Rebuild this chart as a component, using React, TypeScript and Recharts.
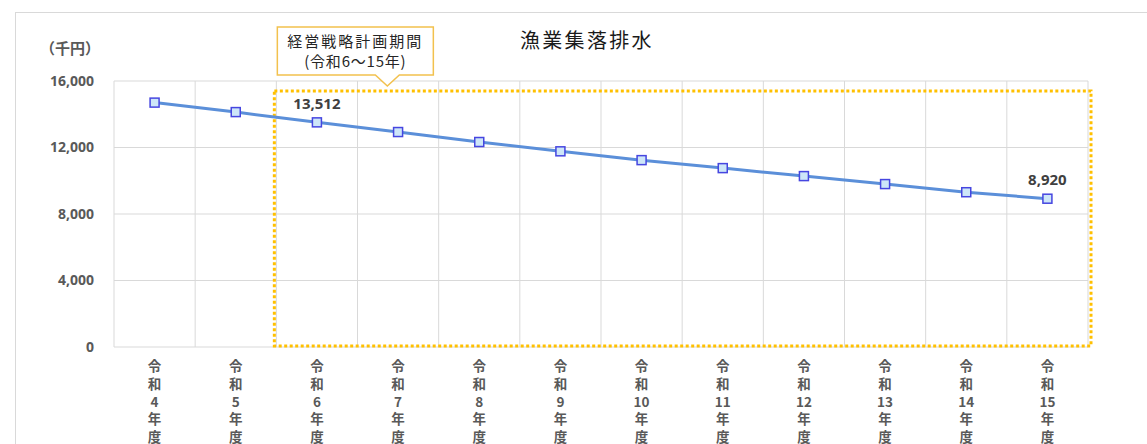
import React from "react";
import {
    LineChart,
    Line,
    XAxis,
    YAxis,
    CartesianGrid,
    ReferenceArea,
    LabelList,
} from "recharts";

const FONT = '"Noto Sans CJK JP", "Noto Sans", sans-serif';
const NUM_FONT = '"Noto Sans", "Noto Sans CJK JP", sans-serif';

const years = [
    "令和4年度",
    "令和5年度",
    "令和6年度",
    "令和7年度",
    "令和8年度",
    "令和9年度",
    "令和10年度",
    "令和11年度",
    "令和12年度",
    "令和13年度",
    "令和14年度",
    "令和15年度",
];

// 千円
const values = [
    14700, 14130, 13512, 12930, 12330, 11770, 11240, 10760, 10280, 9800, 9310,
    8920,
];

const yTicks = [0, 4000, 8000, 12000, 16000];

// only the first and last year of the plan get a value label
const labeledYears = ["令和6年度", "令和15年度"];

const planStart = "令和6年度";
const planEnd = "令和15年度";
const planTop = 15400;

const data = years.map((year, i) => ({ year, value: values[i] }));

// plot is 974px wide, split into 12 bands; points sit mid-band
const HALF_BAND = 974 / years.length / 2;

const YearTick = (props: any) => {
    const { x, y, payload } = props;
    const parts: string[] = String(payload.value).match(/\d+|./g) || [];
    return (
        <text
            x={x}
            y={y}
            textAnchor="middle"
            fill="#595959"
            fontSize={13.5}
            fontWeight="bold"
            fontFamily={FONT}
        >
            {parts.map((p, i) => (
                <tspan key={i} x={x} y={y + 24 + i * 17.8}>
                    {p}
                </tspan>
            ))}
        </text>
    );
};

const SquareDot = (props: any) => {
    const { cx, cy, index } = props;
    if (cx == null || cy == null) return null;
    return (
        <rect
            key={index}
            x={cx - 4.5}
            y={cy - 4.5}
            width={9}
            height={9}
            fill="#CDE6F8"
            stroke="#4646E0"
            strokeWidth={1.5}
        />
    );
};

const ValueLabel = (props: any) => {
    const { x, y, value, index } = props;
    if (!labeledYears.includes(years[index])) return null;
    return (
        <text
            x={x}
            y={y - 19}
            dy="0.35em"
            textAnchor="middle"
            fill="#404040"
            fontSize={15}
            fontWeight="bold"
            fontFamily={NUM_FONT}
        >
            {Number(value).toLocaleString("en-US")}
        </text>
    );
};

// dotted frame around the plan period plus its callout box
const PlanFrame = (props: any) => {
    const { x, y, width, height } = props;
    const left = x - HALF_BAND;
    const right = x + width + HALF_BAND;
    const bx = left + 1;
    const by = y - 64;
    const bw = 156;
    const bh = 48;
    const tip = left + 111;
    return (
        <g>
            <rect
                x={left - 2}
                y={y}
                width={right - left + 5}
                height={height - 1}
                fill="none"
                stroke="#FFC000"
                strokeWidth={3}
                strokeDasharray="3 2.5"
            />
            <path
                d={`M${bx},${by} H${bx + bw} V${by + bh} H${tip + 12} L${tip},${
                    y - 5
                } L${tip - 12},${by + bh} H${bx} Z`}
                fill="#fff"
                stroke="#F2C14E"
                strokeWidth={1.5}
            />
            <text
                x={bx + bw / 2}
                y={by + 15}
                dy="0.35em"
                textAnchor="middle"
                fill="#262626"
                fontSize={15}
                letterSpacing={2}
                fontFamily={FONT}
            >
                経営戦略計画期間
            </text>
            <text
                x={bx + bw / 2}
                y={by + 35}
                dy="0.35em"
                textAnchor="middle"
                fill="#262626"
                fontSize={15}
                letterSpacing={0.8}
                fontFamily={FONT}
            >
                (令和6～15年)
            </text>
        </g>
    );
};

export default function App() {
    const n = years.length;
    return (
        <div
            style={{
                position: "absolute",
                left: 0,
                top: 0,
                width: 1147,
                height: 444,
                background: "#fff",
                overflow: "hidden",
                fontFamily: FONT,
            }}
        >
            <div
                style={{
                    position: "absolute",
                    left: 15,
                    top: 12,
                    width: 1300,
                    height: 600,
                    borderTop: "1px solid #D9D9D9",
                    borderLeft: "1px solid #D9D9D9",
                }}
            />
            <div
                style={{
                    position: "absolute",
                    left: 520,
                    top: 25,
                    fontSize: 20,
                    letterSpacing: 2.3,
                    color: "#1a1a1a",
                    whiteSpace: "nowrap",
                    lineHeight: "30px",
                }}
            >
                漁業集落排水
            </div>
            <div
                style={{
                    position: "absolute",
                    left: 40,
                    top: 36,
                    fontSize: 15,
                    fontWeight: "bold",
                    color: "#595959",
                    whiteSpace: "nowrap",
                    lineHeight: "24px",
                }}
            >
                （千円）
            </div>
            <LineChart
                width={1147}
                height={444}
                data={data}
                margin={{ top: 81, right: 59, bottom: 7, left: 94 }}
            >
                <CartesianGrid
                    stroke="#D9D9D9"
                    verticalCoordinatesGenerator={({ offset }: any) => {
                        const left = offset?.left ?? 114;
                        const w = offset?.width ?? 974;
                        return Array.from(
                            { length: n + 1 },
                            (_, i) => left + (i * w) / n
                        );
                    }}
                />
                <XAxis
                    dataKey="year"
                    height={90}
                    axisLine={false}
                    tickLine={false}
                    tickSize={0}
                    tickMargin={0}
                    interval={0}
                    padding={{ left: HALF_BAND, right: HALF_BAND }}
                    tick={<YearTick />}
                />
                <YAxis
                    width={20}
                    domain={[0, 16000]}
                    ticks={yTicks}
                    axisLine={false}
                    tickLine={false}
                    tickSize={0}
                    tickMargin={20}
                    tickFormatter={(v: number) => v.toLocaleString("en-US")}
                    tick={{
                        fill: "#595959",
                        fontSize: 14,
                        fontWeight: "bold",
                        fontFamily: NUM_FONT,
                    }}
                />
                <ReferenceArea
                    x1={planStart}
                    x2={planEnd}
                    y1={0}
                    y2={planTop}
                    shape={<PlanFrame />}
                />
                <Line
                    dataKey="value"
                    stroke="#5B8FD9"
                    strokeWidth={3}
                    dot={<SquareDot />}
                    activeDot={false}
                    isAnimationActive={false}
                >
                    <LabelList dataKey="value" content={<ValueLabel />} />
                </Line>
            </LineChart>
        </div>
    );
}
